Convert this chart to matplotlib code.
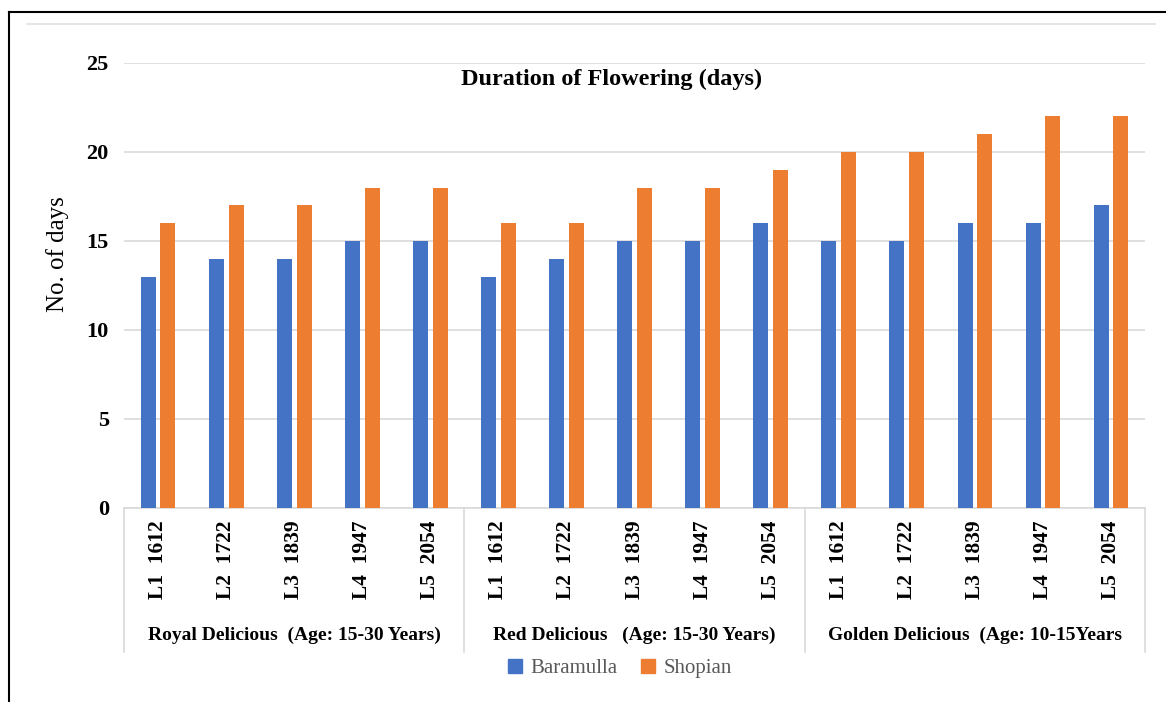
import numpy as np
import matplotlib.pyplot as plt
from matplotlib.lines import Line2D
from matplotlib.patches import Patch
import matplotlib.transforms as mtransforms

plt.rcParams['font.family'] = ['Liberation Serif', 'DejaVu Serif']

lines = ['L1  1612', 'L2  1722', 'L3  1839', 'L4  1947', 'L5  2054']
varieties = ['Royal Delicious  (Age: 15-30 Years)',
             'Red Delicious   (Age: 15-30 Years)',
             'Golden Delicious  (Age: 10-15Years']
baramulla = [13, 14, 14, 15, 15,
             13, 14, 15, 15, 16,
             15, 15, 16, 16, 17]
shopian = [16, 17, 17, 18, 18,
           16, 16, 18, 18, 19,
           20, 20, 21, 22, 22]

blue = '#4472C4'
orange = '#ED7D31'
grid_col = '#D9D9D9'

fig = plt.figure(figsize=(11.67, 7.02), dpi=100)
ax = fig.add_axes([0.1063, 0.2764, 0.8749, 0.6339])

x = np.arange(len(baramulla))
w = 0.22
ax.bar(x - 0.145, baramulla, width=w, color=blue, zorder=3)
ax.bar(x + 0.145, shopian, width=w, color=orange, zorder=3)

ax.set_xlim(-0.5, len(x) - 0.5)
ax.set_ylim(0, 25)
ax.set_yticks(range(0, 26, 5))
ax.yaxis.grid(True, color=grid_col, linewidth=1.2, zorder=0)
for s in ['top', 'right', 'left']:
    ax.spines[s].set_visible(False)
ax.spines['bottom'].set_color(grid_col)
ax.spines['bottom'].set_linewidth(1.2)
ax.tick_params(axis='y', length=0, pad=11, labelsize=16)
for t in ax.get_yticklabels():
    t.set_fontweight('bold')

ax.set_xticks(x)
ax.set_xticklabels(lines * 3, rotation=90, fontsize=15.5, fontweight='bold', va='top')
ax.tick_params(axis='x', length=0, pad=9)

fig.text(58 / 1167, 1 - 254 / 702, 'No. of days', rotation=90, ha='center', va='center',
         fontsize=18)

# title sits inside the plot area
ax.text(0.477, 0.962, 'Duration of Flowering (days)', transform=ax.transAxes,
        ha='center', va='center', fontsize=17.5, fontweight='bold')

# group boxes below the axis
trans = mtransforms.blended_transform_factory(ax.transData, ax.transAxes)
for b in [-0.5, 4.5, 9.5, 14.5]:
    ax.add_line(Line2D([b, b], [0, -0.3236], transform=trans, color=grid_col,
                       linewidth=1.2, clip_on=False))
for i, name in enumerate(varieties):
    ax.text(i * 5 + 2, -0.2854, name, transform=trans, ha='center', va='center',
            fontsize=14, fontweight='bold')

handles = [Patch(color=blue, label='Baramulla'), Patch(color=orange, label='Shopian')]
fig.legend(handles=handles, loc='center', bbox_to_anchor=(0.531, 0.048), ncol=2,
           frameon=False, fontsize=15, labelcolor='#595959', handlelength=0.7,
           handleheight=0.7, handletextpad=0.4, columnspacing=1.1)

# outer frame and header rule
fig.add_artist(Line2D([9 / 1167, 9 / 1167], [0, 1 - 12 / 702], color='black', linewidth=1.5))
fig.add_artist(Line2D([9 / 1167, 1165 / 1167], [1 - 12 / 702, 1 - 12 / 702], color='black', linewidth=1.5))
fig.add_artist(Line2D([27 / 1167, 1155 / 1167], [1 - 24 / 702, 1 - 24 / 702], color='#E0E0E0', linewidth=1.2))

fig.savefig('out.png', dpi=100)
